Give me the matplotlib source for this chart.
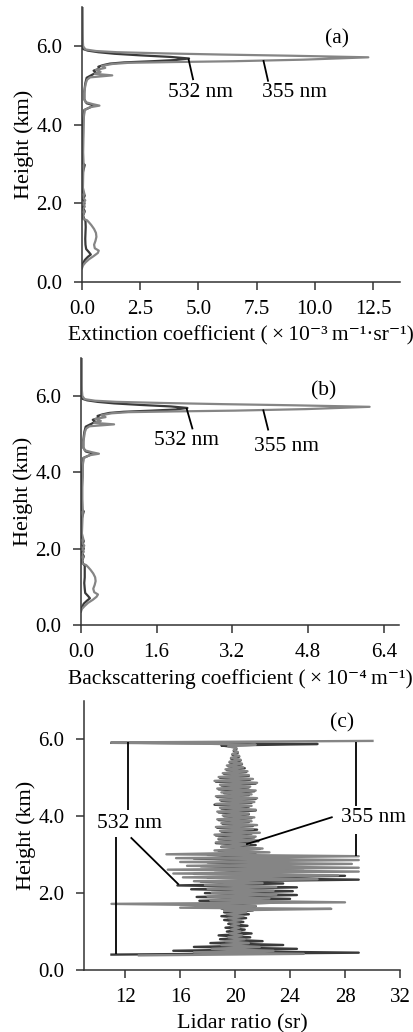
import matplotlib
matplotlib.use("Agg")
import matplotlib.pyplot as plt

plt.rcParams['font.family'] = ['Liberation Serif', 'DejaVu Serif']

DARK = "#3a3a3a"   # 532 nm
GRAY = "#858585"   # 355 nm

# ---- (a) extinction coefficient, x 1e-3 ----
ext355_h = [0.35, 0.42, 0.50, 0.58, 0.66, 0.74, 0.80, 0.86, 0.95, 1.05,
            1.15, 1.25, 1.35, 1.45, 1.52, 1.57, 1.61, 1.70, 1.78, 1.85,
            1.92, 2.00, 2.08, 2.15, 2.25, 2.40, 2.70, 3.00, 3.30, 3.60,
            3.90, 4.20, 4.38, 4.45, 4.49, 4.53, 4.58, 4.65, 4.80, 4.95,
            5.05, 5.15, 5.21, 5.26, 5.30, 5.35, 5.40, 5.45, 5.50, 5.55,
            5.58, 5.60, 5.62, 5.66, 5.72, 5.76, 5.79, 5.82, 5.85, 5.88,
            5.92, 6.00, 6.30, 7.00]
ext355 = [0.00, 0.04, 0.15, 0.30, 0.50, 0.68, 0.72, 0.55, 0.52, 0.58,
          0.62, 0.60, 0.52, 0.40, 0.30, 0.22, 0.05, 0.03, 0.10, 0.04,
          0.12, 0.06, 0.14, 0.05, 0.10, 0.04, 0.05, 0.07, 0.05, 0.06,
          0.07, 0.08, 0.12, 0.35, 0.75, 0.45, 0.15, 0.10, 0.10, 0.13,
          0.16, 0.22, 0.35, 1.30, 0.55, 0.80, 0.60, 1.00, 0.85, 1.30,
          2.00, 4.00, 6.50, 9.50, 12.3, 9.00, 6.00, 3.50, 1.50, 0.60,
          0.15, 0.05, 0.02, 0.02]
ext532_h = [0.40, 0.48, 0.56, 0.64, 0.70, 0.76, 0.84, 0.95, 1.10, 1.25,
            1.40, 1.55, 1.62, 1.70, 1.80, 1.90, 2.00, 2.10, 2.20, 2.30,
            2.50, 2.80, 2.98, 3.02, 3.30, 3.70, 4.10, 4.38, 4.46, 4.50,
            4.55, 4.65, 4.85, 5.05, 5.20, 5.28, 5.33, 5.38, 5.43, 5.48,
            5.52, 5.56, 5.59, 5.62, 5.65, 5.69, 5.73, 5.77, 5.81, 5.85,
            5.89, 5.93, 6.10, 7.00]
ext532 = [0.00, 0.05, 0.12, 0.25, 0.38, 0.30, 0.18, 0.15, 0.14, 0.15,
          0.16, 0.15, 0.08, 0.05, 0.12, 0.04, 0.11, 0.05, 0.12, 0.04,
          0.03, 0.04, 0.12, 0.04, 0.03, 0.04, 0.05, 0.10, 0.40, 0.50,
          0.20, 0.10, 0.10, 0.14, 0.20, 0.45, 0.60, 0.50, 0.75, 0.70,
          0.90, 1.20, 1.80, 3.00, 4.00, 4.60, 3.80, 2.50, 1.40, 0.70,
          0.25, 0.05, 0.02, 0.01]

# ---- (b) backscattering coefficient, x 1e-4 (same height bins) ----
bsc355 = [0.00, 0.02, 0.08, 0.15, 0.25, 0.33, 0.36, 0.28, 0.26, 0.29,
          0.31, 0.30, 0.26, 0.20, 0.15, 0.11, 0.03, 0.02, 0.05, 0.02,
          0.06, 0.03, 0.07, 0.03, 0.05, 0.02, 0.03, 0.04, 0.03, 0.03,
          0.04, 0.04, 0.06, 0.18, 0.38, 0.23, 0.08, 0.05, 0.05, 0.07,
          0.08, 0.11, 0.18, 0.70, 0.28, 0.42, 0.30, 0.52, 0.43, 0.65,
          1.00, 2.00, 3.25, 4.75, 6.10, 4.50, 3.00, 1.75, 0.75, 0.30,
          0.08, 0.03, 0.01, 0.01]
bsc532 = [0.00, 0.03, 0.06, 0.13, 0.19, 0.15, 0.09, 0.08, 0.07, 0.08,
          0.08, 0.08, 0.04, 0.03, 0.06, 0.02, 0.06, 0.03, 0.06, 0.02,
          0.02, 0.02, 0.06, 0.02, 0.02, 0.02, 0.03, 0.05, 0.20, 0.25,
          0.10, 0.05, 0.05, 0.07, 0.10, 0.23, 0.30, 0.25, 0.38, 0.35,
          0.45, 0.60, 0.90, 1.50, 2.00, 2.25, 1.90, 1.25, 0.70, 0.35,
          0.13, 0.03, 0.01, 0.01]

# ---- (c) lidar ratio (sr) ----
lr532_h = [0.40, 0.45, 0.50, 0.55, 0.60, 0.65, 0.70, 0.75, 0.80, 0.85,
           0.90, 0.95, 1.00, 1.05, 1.10, 1.15, 1.20, 1.25, 1.30, 1.35,
           1.40, 1.45, 1.50, 1.55, 1.60, 1.65, 1.70, 1.75, 1.80, 1.85,
           1.90, 1.95, 2.00, 2.05, 2.10, 2.15, 2.20, 2.25, 2.30, 2.35,
           2.40, 2.45, 2.50, 2.55, 2.60, 2.65, 2.70, 2.75, 2.80, 2.85,
           2.90, 2.95, 3.00, 3.05, 3.10, 3.15, 3.20, 3.25, 3.30, 3.35,
           3.40, 3.45, 3.50, 3.55, 3.60, 3.65, 3.70, 3.75, 3.80, 3.85,
           3.90, 3.95, 4.00, 4.05, 4.10, 4.15, 4.20, 4.25, 4.30, 4.35,
           4.40, 4.45, 4.50, 4.55, 4.60, 4.65, 4.70, 4.75, 4.80, 4.85,
           4.90, 4.95, 5.00, 5.05, 5.10, 5.15, 5.20, 5.25, 5.30, 5.35,
           5.40, 5.45, 5.50, 5.55, 5.60, 5.65, 5.70, 5.75, 5.80, 5.84,
           5.88, 5.91]
lr532 = [11.0, 29.0, 15.5, 24.5, 17.0, 23.5, 18.2, 22.0, 18.9, 21.1,
         18.8, 21.2, 19.4, 20.7, 19.3, 20.9, 19.5, 20.6, 19.2, 20.8,
         19.0, 21.0, 19.2, 21.3, 19.0, 21.5, 18.2, 22.8, 17.4, 24.0,
         17.2, 24.5, 17.8, 24.2, 16.8, 24.5, 15.8, 23.5, 17.5, 29.0,
         18.0, 28.0, 17.0, 23.0, 18.5, 25.0, 17.5, 22.5, 18.0, 23.0,
         17.0, 22.0, 18.0, 21.5, 18.8, 21.8, 19.0, 21.5, 18.6, 21.7,
         18.8, 21.4, 18.6, 21.2, 19.0, 21.6, 18.7, 21.3, 19.1, 21.0,
         18.8, 21.2, 19.2, 21.0, 18.8, 21.5, 19.0, 21.0, 18.5, 21.2,
         19.0, 21.5, 18.7, 21.0, 19.2, 21.4, 18.8, 21.0, 19.0, 21.5,
         18.6, 21.1, 18.9, 21.0, 19.2, 20.8, 19.4, 20.7, 19.5, 20.5,
         19.6, 20.4, 19.7, 20.3, 19.8, 20.2, 19.9, 20.1, 20.0, 19.0,
         26.0, 11.0]
lr355_h = [0.38, 0.42, 0.46, 0.50, 0.55, 0.60, 0.65, 0.70, 0.75, 0.80,
           0.85, 0.90, 0.95, 1.00, 1.05, 1.10, 1.15, 1.20, 1.25, 1.30,
           1.35, 1.40, 1.45, 1.50, 1.55, 1.59, 1.62, 1.67, 1.72, 1.76,
           1.81, 1.86, 1.91, 1.96, 2.01, 2.06, 2.11, 2.16, 2.21, 2.26,
           2.31, 2.36, 2.41, 2.46, 2.51, 2.56, 2.61, 2.66, 2.71, 2.76,
           2.81, 2.86, 2.91, 2.96, 3.01, 3.06, 3.11, 3.16, 3.21, 3.27,
           3.32, 3.37, 3.42, 3.47, 3.52, 3.57, 3.62, 3.67, 3.72, 3.77,
           3.82, 3.87, 3.92, 3.97, 4.02, 4.07, 4.12, 4.17, 4.22, 4.27,
           4.32, 4.37, 4.42, 4.47, 4.52, 4.57, 4.62, 4.67, 4.72, 4.77,
           4.82, 4.87, 4.92, 4.97, 5.02, 5.07, 5.12, 5.17, 5.22, 5.27,
           5.32, 5.37, 5.42, 5.47, 5.52, 5.57, 5.62, 5.67, 5.72, 5.77,
           5.82, 5.86, 5.89, 5.92, 5.96]
lr355 = [13.0, 25.0, 17.0, 22.8, 18.3, 21.8, 19.0, 21.0, 19.3, 20.7,
         19.5, 20.5, 19.6, 20.4, 19.7, 20.3, 19.7, 20.3, 19.6, 20.4,
         19.5, 20.6, 19.4, 20.8, 19.2, 27.0, 16.0, 21.5, 11.0, 28.0,
         18.2, 22.5, 18.0, 23.0, 18.3, 22.8, 18.0, 23.0, 17.8, 22.0,
         17.0, 26.0, 16.2, 27.5, 15.5, 29.0, 15.1, 29.0, 16.5, 28.5,
         16.0, 29.0, 15.7, 29.0, 15.0, 22.5, 18.5, 22.0, 19.0, 21.0,
         18.6, 21.6, 18.8, 21.5, 18.5, 21.8, 18.9, 21.3, 18.6, 21.6,
         19.0, 21.2, 18.7, 21.4, 19.1, 21.0, 18.7, 21.5, 18.9, 21.2,
         18.6, 21.4, 18.9, 21.6, 18.6, 21.2, 19.0, 21.5, 18.7, 21.1,
         18.9, 21.6, 18.5, 21.3, 18.8, 21.0, 19.1, 20.9, 19.3, 20.6,
         19.4, 20.5, 19.6, 20.4, 19.7, 20.3, 19.8, 20.2, 19.9, 20.1,
         19.5, 21.5, 17.5, 11.0, 30.0]

y_ticks = [0.0, 2.0, 4.0, 6.0]
ext_ticks = [0.0, 2.5, 5.0, 7.5, 10.0, 12.5]
bsc_ticks = [0.0, 1.6, 3.2, 4.8, 6.4]
lr_ticks = [12, 16, 20, 24, 28, 32]

TICK_FS = 15
LABEL_FS = 16
NOTE_FS = 15.5


def style_axis(ax):
    for side in ("top", "right"):
        ax.spines[side].set_visible(False)
    for side in ("left", "bottom"):
        ax.spines[side].set_linewidth(1.1)
        ax.spines[side].set_color("#333333")
    ax.tick_params(direction="out", length=6, width=1.1, color="#333333",
                   labelsize=TICK_FS)
    ax.tick_params(axis="x", pad=7)
    ax.tick_params(axis="y", pad=8)
    ax.set_ylim(0, 7)
    ax.set_yticks(y_ticks)
    ax.set_yticklabels([f"{t:.1f}" for t in y_ticks])
    ax.set_ylabel("Height (km)", fontsize=LABEL_FS, labelpad=2)


def pointer(ax, p0, p1):
    ax.plot([p0[0], p1[0]], [p0[1], p1[1]], color="black", lw=1.3,
            solid_capstyle="butt")


fig = plt.figure(figsize=(4.13, 10.32), dpi=100)

# (a)
ax = fig.add_axes([0.1985, 0.7267, 0.77, 0.2665])
ax.plot(ext532, ext532_h, color=DARK, lw=1.6)
ax.plot(ext355, ext355_h, color=GRAY, lw=1.6)
style_axis(ax)
ax.set_xlim(0, 13.66)
ax.set_xticks(ext_ticks)
ax.set_xticklabels([f"{t:.1f}" for t in ext_ticks])
ax.set_xlabel("Extinction coefficient (\u2009×\u200910⁻³\u2009m⁻¹·sr⁻¹)",
              fontsize=15.5, labelpad=5)
pointer(ax, (4.57, 5.69), (4.78, 5.14))
pointer(ax, (7.79, 5.65), (8.00, 5.10))
ax.text(5.07, 4.82, "532 nm", fontsize=NOTE_FS, ha="center", va="center")
ax.text(9.15, 4.82, "355 nm", fontsize=NOTE_FS, ha="center", va="center")
ax.text(10.95, 6.2, "(a)", fontsize=NOTE_FS, ha="center", va="center")

# (b)
ax = fig.add_axes([0.196, 0.3944, 0.77, 0.2587])
ax.plot(bsc532, ext532_h, color=DARK, lw=1.6)
ax.plot(bsc355, ext355_h, color=GRAY, lw=1.6)
style_axis(ax)
ax.set_xlim(0, 6.72)
ax.set_xticks(bsc_ticks)
ax.set_xticklabels([f"{t:.1f}" for t in bsc_ticks])
ax.set_xlabel("Backscattering coefficient (\u2009×\u200910⁻⁴\u2009m⁻¹)",
              fontsize=15.5, labelpad=5)
pointer(ax, (2.23, 5.69), (2.36, 5.13))
pointer(ax, (3.85, 5.65), (3.96, 5.10))
ax.text(2.23, 4.83, "532 nm", fontsize=NOTE_FS, ha="center", va="center")
ax.text(4.34, 4.67, "355 nm", fontsize=NOTE_FS, ha="center", va="center")
ax.text(5.12, 6.15, "(b)", fontsize=NOTE_FS, ha="center", va="center")

# (c)
ax = fig.add_axes([0.2034, 0.0601, 0.765, 0.2607])
ax.plot(lr532, lr532_h, color=DARK, lw=1.7)
ax.plot(lr355, lr355_h, color=GRAY, lw=1.7)
style_axis(ax)
ax.set_xlim(9, 32)
ax.set_xticks(lr_ticks)
ax.set_xlabel("Lidar ratio (sr)", fontsize=LABEL_FS, labelpad=5)
pointer(ax, (12.2, 5.92), (12.2, 4.15))
pointer(ax, (11.3, 3.45), (11.3, 0.42))
pointer(ax, (12.4, 3.45), (15.9, 2.22))
pointer(ax, (28.8, 5.92), (28.8, 4.26))
pointer(ax, (28.8, 3.53), (28.8, 2.97))
pointer(ax, (27.1, 3.98), (20.8, 3.27))
ax.text(12.3, 3.8, "532 nm", fontsize=NOTE_FS, ha="center", va="center")
ax.text(30.1, 3.96, "355 nm", fontsize=NOTE_FS, ha="center", va="center",
        clip_on=False)
ax.text(27.8, 6.42, "(c)", fontsize=NOTE_FS, ha="center", va="center")

fig.savefig("out.png", dpi=100)
